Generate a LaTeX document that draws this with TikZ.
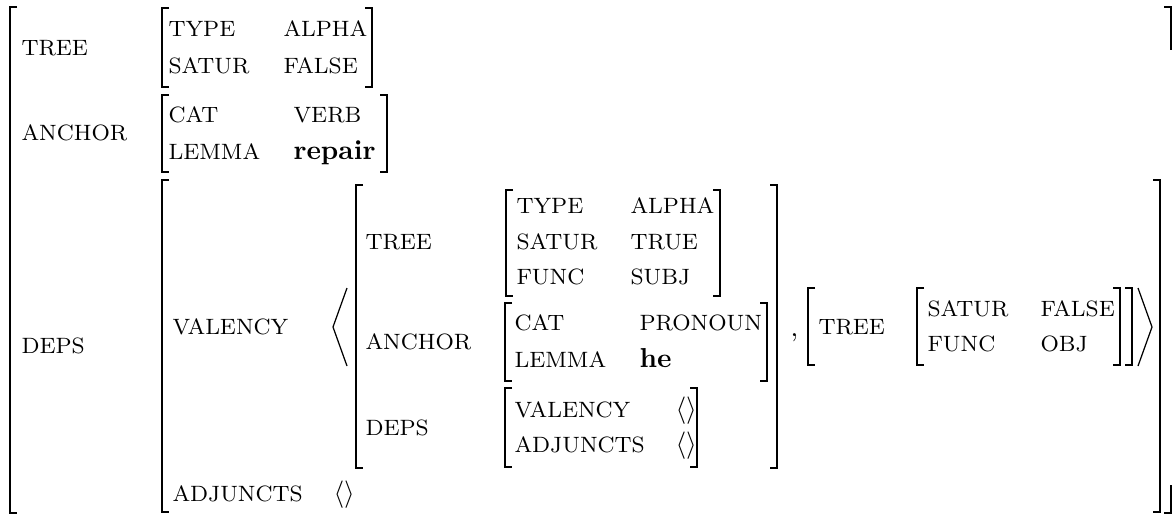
\documentclass[tikz,border=0pt]{standalone}
\begin{document}
\begin{tikzpicture}[x=0.365pt, y=-0.365pt,
  lab/.style={anchor=base west, inner sep=0pt, font=\fontsize{8.1}{9.7}\selectfont},
  wrd/.style={anchor=base west, inner sep=0pt, font=\bfseries},
  br/.style={line width=0.7pt, line join=miter, line cap=butt},
  ang/.style={line width=0.45pt, line join=miter}]
\useasboundingbox (0,0) rectangle (1173,515);

% square brackets: x, top, bottom
\newcommand\avmL[3]{\draw[br] (#1+7,#2) -- (#1,#2) -- (#1,#3) -- (#1+7,#3);}
\newcommand\avmR[3]{\draw[br] (#1-7,#2) -- (#1,#2) -- (#1,#3) -- (#1-7,#3);}

% outermost structure
\avmL{10}{7}{513}
\draw[br] (1164,7) -- (1171,7) -- (1171,50);
\draw[br] (1171,485) -- (1171,513) -- (1164,513);

% TREE
\node[lab] (tree) at (21,55) {TREE};
\avmL{162}{8}{87} \avmR{372}{8}{87}
\node[lab] (type) at (168,36) {TYPE};
\node[lab] (alpha) at (283,36) {ALPHA};
\node[lab] (satur) at (168,73) {SATUR};
\node[lab] (sfalse) at (283,73) {FALSE};

% ANCHOR
\node[lab] (anchor) at (21,140) {ANCHOR};
\avmL{162}{95}{172} \avmR{387}{95}{172}
\node[lab] (cat) at (168,122) {CAT};
\node[lab] (verb) at (293,122) {VERB};
\node[lab] (lemma) at (168,159) {LEMMA};
\node[wrd] (repair) at (293,159) {repair};

% DEPS
\node[lab] (deps) at (21,353) {DEPS};
\avmL{162}{180}{512} \avmR{1160}{180}{512}
\node[lab] (valency) at (172,334) {VALENCY};
\node[lab] (adjuncts) at (172,501) {ADJUNCTS};
\node[anchor=base west, inner sep=0pt] (adjlist) at (333,501) {$\langle\rangle$};

% valency list
\draw[ang] (347,288) -- (333,327) -- (347,366);
\draw[ang] (1138,288) -- (1152,327) -- (1138,366);

% first list element
\avmL{356}{185}{468} \avmR{777}{185}{468}
\node[lab] (itree) at (365,249) {TREE};
\avmL{506}{190}{296} \avmR{720}{190}{296}
\node[lab] (itype) at (516,213) {TYPE};
\node[lab] (ialpha) at (630,213) {ALPHA};
\node[lab] (isatur) at (516,249) {SATUR};
\node[lab] (itrue) at (630,249) {TRUE};
\node[lab] (ifunc) at (516,284) {FUNC};
\node[lab] (isubj) at (630,284) {SUBJ};

\node[lab] (ianchor) at (365,349) {ANCHOR};
\avmL{505}{303}{381} \avmR{767}{303}{381}
\node[lab] (icat) at (514,330) {CAT};
\node[lab] (ipron) at (639,330) {PRONOUN};
\node[lab] (ilemma) at (514,367) {LEMMA};
\node[wrd] (ihe) at (639,367) {he};

\node[lab] (ideps) at (365,435) {DEPS};
\avmL{505}{388}{467} \avmR{697}{388}{467}
\node[lab] (ival) at (514,417) {VALENCY};
\node[anchor=base west, inner sep=0pt] (ivallist) at (675,417) {$\langle\rangle$};
\node[lab] (iadj) at (514,452) {ADJUNCTS};
\node[anchor=base west, inner sep=0pt] (iadjlist) at (675,452) {$\langle\rangle$};

% second list element
\node[anchor=base west, inner sep=0pt] (comma) at (790,336) {,};
\avmL{808}{288}{365} \avmR{1132}{288}{365}
\node[lab] (otree) at (818,334) {TREE};
\avmL{917}{288}{365} \avmR{1120}{288}{365}
\node[lab] (osatur) at (927,316) {SATUR};
\node[lab] (ofalse) at (1040,316) {FALSE};
\node[lab] (ofunc) at (927,351) {FUNC};
\node[lab] (oobj) at (1040,351) {OBJ};
\end{tikzpicture}
\end{document}
